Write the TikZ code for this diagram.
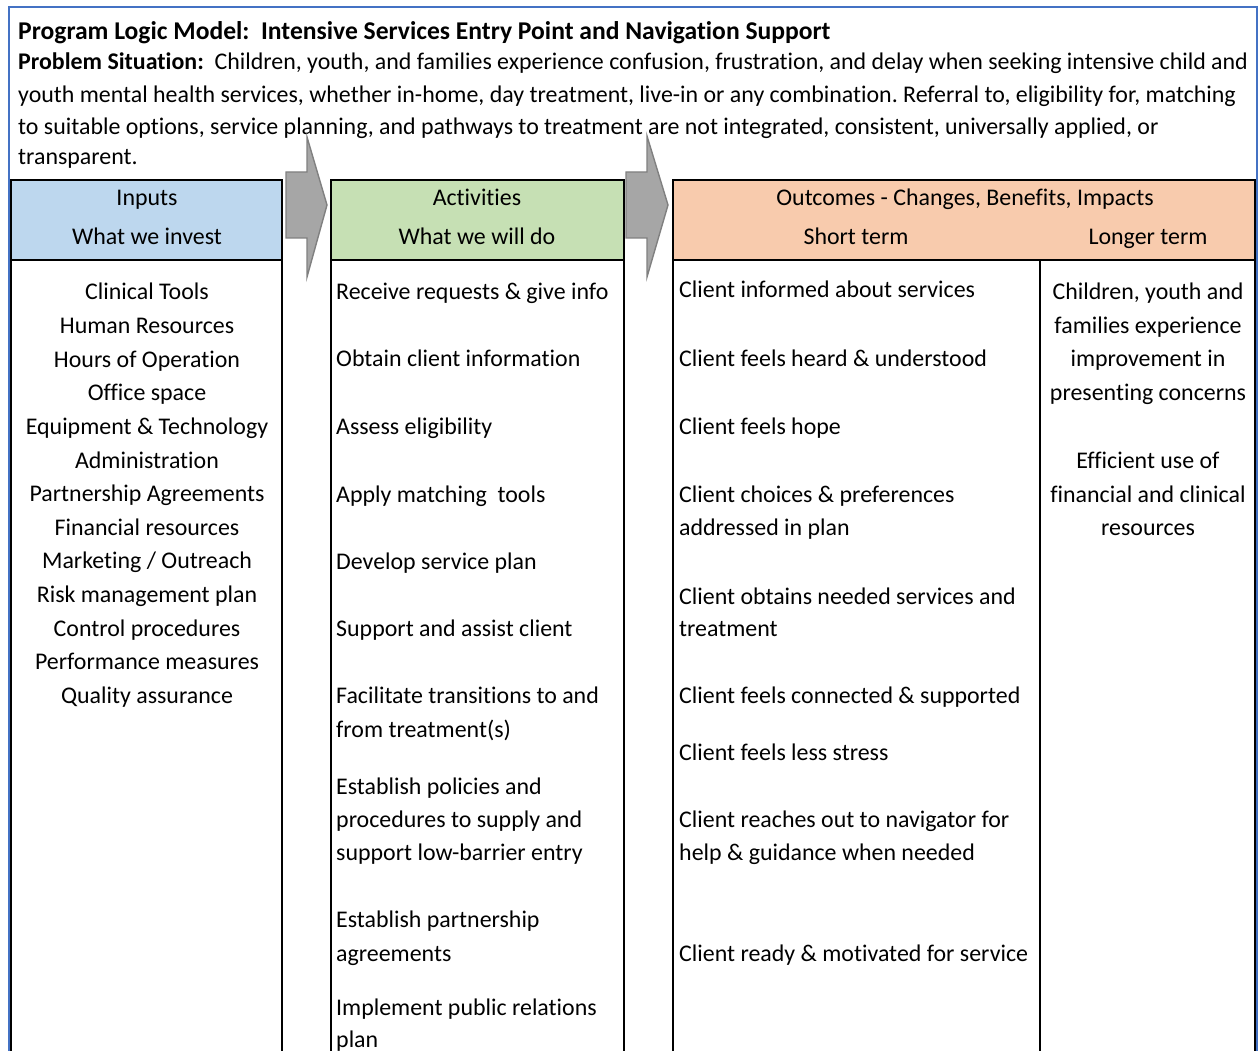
\documentclass[tikz,border=0pt]{standalone}
\usepackage{fontspec}
\setmainfont[Ligatures=CommonOff]{Carlito}
\usetikzlibrary{positioning}
\frenchspacing
\definecolor{framex}{HTML}{4472C4}
\definecolor{inblue}{HTML}{BDD7EE}
\definecolor{actgreen}{HTML}{C6E0B4}
\definecolor{outpeach}{HTML}{F8CBAD}
\definecolor{arrfill}{HTML}{A6A6A6}
\definecolor{arrline}{HTML}{808080}
\tikzset{
  cell/.style={draw=black,line width=2.2pt},
  txt/.style={font=\fontsize{23.9}{28}\selectfont,inner sep=0pt,anchor=base west},
  mid/.style={txt,anchor=base},
  flow/.style={fill=arrfill,draw=arrline,line width=1.4pt}
}

\begin{document}
\begin{tikzpicture}[x=1pt,y=-1pt]
\useasboundingbox (0,0) rectangle (1259,1051);
\clip (0,0) rectangle (1259,1051);
\fill[white] (0,0) rectangle (1259,1051);
% sheet frame
\draw[framex,line width=2pt] (9,1060) |- (1257,7) -- (1257,1060);
% title and problem statement
\node[txt,font=\fontsize{25.6}{30}\selectfont\bfseries] (title) at (18,40) {Program Logic Model:~ Intensive Services Entry Point and Navigation Support};
\node[txt] (prob1) at (18,70) {\textbf{Problem Situation:}~ Children, youth, and families experience confusion, frustration, and delay when seeking intensive child and};
\node[txt] (prob2) at (18,103) {youth mental health services, whether in-home, day treatment, live-in or any combination. Referral to, eligibility for, matching};
\node[txt] (prob3) at (18,135) {to suitable options, service planning, and pathways to treatment are not integrated, consistent, universally applied, or};
\node[txt] (prob4) at (18,165) {transparent.};
% column heads
\filldraw[cell,fill=inblue] (11,180) rectangle (282,260);
\filldraw[cell,fill=actgreen] (331,180) rectangle (624,260);
\filldraw[cell,fill=outpeach] (673,180) rectangle (1255,260);
\draw[cell] (11,260) -- (11,1060) (282,260) -- (282,1060)
  (331,260) -- (331,1060) (624,260) -- (624,1060)
  (673,260) -- (673,1060) (1040,260) -- (1040,1060) (1255,260) -- (1255,1060);
\node[mid] (inh1) at (147,206) {Inputs};
\node[mid] (inh2) at (147,245) {What we invest};
\node[mid] (acth1) at (477,206) {Activities};
\node[mid] (acth2) at (477,245) {What we will do};
\node[mid] (outh1) at (965,206) {Outcomes - Changes, Benefits, Impacts};
\node[mid] (outh2) at (856,245) {Short term};
\node[mid] (outh3) at (1148,245) {Longer term};
% inputs
\foreach \lbl [count=\i from 0] in {Clinical Tools,Human Resources,Hours of Operation,Office space,
  Equipment \& Technology,Administration,Partnership Agreements,Financial resources,
  Marketing / Outreach,Risk management plan,Control procedures,Performance measures,Quality assurance}
  \node[mid] (inp\i) at (147,300+33.6*\i) {\lbl};
% activities
\foreach \yy/\lbl [count=\i] in {300/Receive requests \& give info,366/Obtain client information,
  434/Assess eligibility,502/Apply matching~ tools,569/Develop service plan,636/Support and assist client,
  703/Facilitate transitions to and,737/from treatment(s),794/Establish policies and,
  827/procedures to supply and,860/support low-barrier entry,927/Establish partnership,
  961/agreements,1015/Implement public relations,1047/plan}
  \node[txt] (act\i) at (336,\yy) {\lbl};
% short term outcomes
\foreach \yy/\lbl [count=\i] in {298/Client informed about services,366/Client feels heard \& understood,
  434/Client feels hope,502/Client choices \& preferences,535/addressed in plan,
  604/Client obtains needed services and,636/treatment,703/Client feels connected \& supported,
  760/Client feels less stress,827/Client reaches out to navigator for,860/help \& guidance when needed,
  961/Client ready \& motivated for service}
  \node[txt] (sht\i) at (679,\yy) {\lbl};
% longer term outcomes
\foreach \yy/\lbl [count=\i] in {300/{Children, youth and},333/families experience,366/improvement in,
  400/presenting concerns,468/Efficient use of,502/financial and clinical,535/resources}
  \node[mid] (lng\i) at (1148,\yy) {\lbl};
% block arrows between the columns
\filldraw[flow] (286,172) -- (307,172) -- (307,137) -- (327,205) -- (307,277) -- (307,238) -- (286,238) -- cycle;
\filldraw[flow] (626,172) -- (647,172) -- (647,136) -- (668,205) -- (647,277) -- (647,238) -- (626,238) -- cycle;
\end{tikzpicture}
\end{document}
